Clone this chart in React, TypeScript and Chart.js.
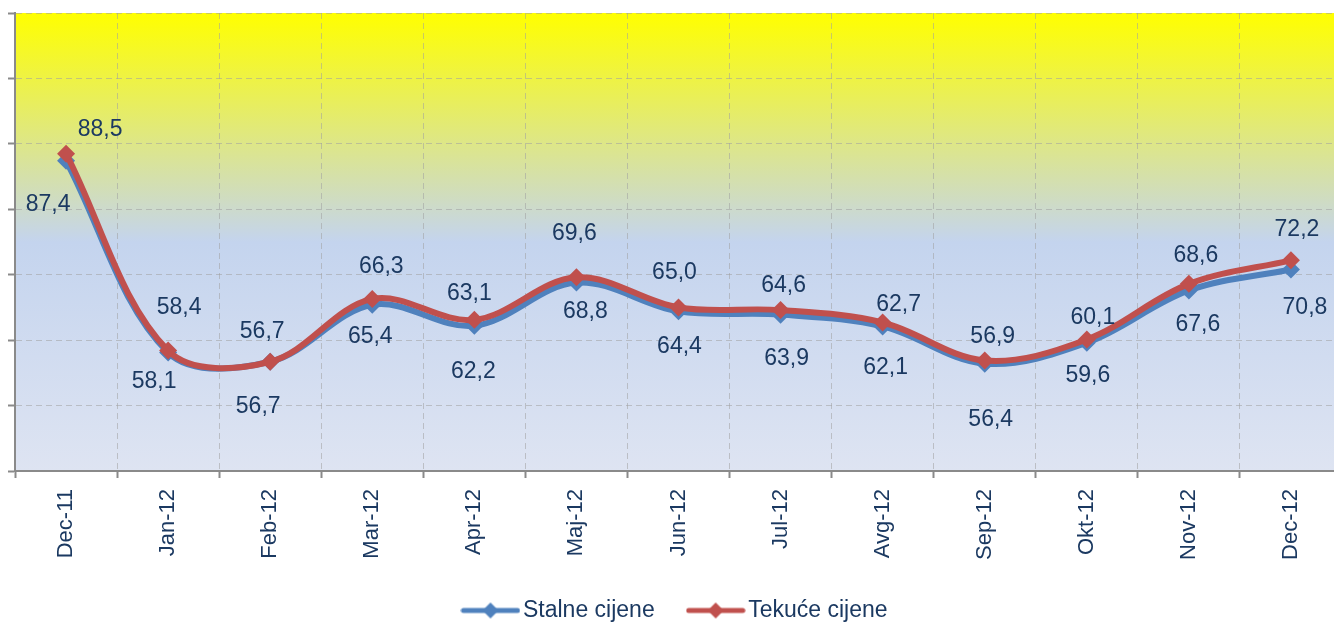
import { useEffect, useRef } from 'react';
import { Chart, registerables } from 'chart.js';

Chart.register(...registerables);

const categories = ['Dec-11', 'Jan-12', 'Feb-12', 'Mar-12', 'Apr-12', 'Maj-12', 'Jun-12', 'Jul-12', 'Avg-12', 'Sep-12', 'Okt-12', 'Nov-12', 'Dec-12'];
const stalneCijene = [87.4, 58.1, 56.7, 65.4, 62.2, 68.8, 64.4, 63.9, 62.1, 56.4, 59.6, 67.6, 70.8];
const tekuceCijene = [88.5, 58.4, 56.7, 66.3, 63.1, 69.6, 65.0, 64.6, 62.7, 56.9, 60.1, 68.6, 72.2];
const seriesNames = ['Stalne cijene', 'Tekuće cijene'];
const yMin = 40;
const yMax = 110;
const yStep = 10;

// label placement relative to each marker (dx, dy), as in the original
const stalneLabelOffsets = [[-18, 44], [-14, 29], [-12, 45], [-2, 32], [-1, 46], [9, 29], [1, 35], [6, 44], [3, 41], [6, 56], [1, 33], [9, 34], [14, 38]];
const tekuceLabelOffsets = [[34, -24], [11, -43], [-8, -30], [9, -32], [-5, -26], [-2, -44], [-4, -35], [3, -24], [16, -18], [8, -24], [6, -22], [7, -28], [6, -31]];

const BLUE = '#4F81BD';
const RED = '#C0504D';
const TEXT = '#1B3961';
const FONT = '"Liberation Sans", Arial, sans-serif';

function legendMarker(color: string) {
  const c = document.createElement('canvas');
  c.width = 60;
  c.height = 20;
  const ctx = c.getContext('2d')!;
  ctx.strokeStyle = color;
  ctx.lineWidth = 5;
  ctx.lineCap = 'round';
  ctx.beginPath();
  ctx.moveTo(3, 10);
  ctx.lineTo(57, 10);
  ctx.stroke();
  ctx.fillStyle = color;
  ctx.beginPath();
  ctx.moveTo(30, 2);
  ctx.lineTo(38, 10);
  ctx.lineTo(30, 18);
  ctx.lineTo(22, 10);
  ctx.closePath();
  ctx.fill();
  return c;
}

const backgroundPlugin = {
  id: 'plotBackground',
  beforeDraw(chart: any) {
    const { ctx, chartArea } = chart;
    if (!chartArea) return;
    const g = ctx.createLinearGradient(0, chartArea.top, 0, chartArea.bottom);
    g.addColorStop(0, '#FFFF00');
    g.addColorStop(0.5, '#C4D4EE');
    g.addColorStop(1, '#DEE4F2');
    ctx.save();
    ctx.fillStyle = g;
    ctx.fillRect(chartArea.left, chartArea.top, chartArea.right - chartArea.left, chartArea.bottom - chartArea.top);
    ctx.restore();
  },
};

const labelOffsets = [stalneLabelOffsets, tekuceLabelOffsets];

const valueLabelPlugin = {
  id: 'valueLabels',
  afterDatasetsDraw(chart: any) {
    const ctx = chart.ctx;
    ctx.save();
    ctx.font = `23px ${FONT}`;
    ctx.fillStyle = TEXT;
    ctx.textAlign = 'center';
    ctx.textBaseline = 'middle';
    chart.data.datasets.forEach((ds: any, di: number) => {
      const meta = chart.getDatasetMeta(di);
      const offs = labelOffsets[di];
      meta.data.forEach((pt: any, i: number) => {
        const v = ds.data[i] as number;
        const text = v.toFixed(1).replace('.', ',');
        ctx.fillText(text, pt.x + offs[i][0], pt.y + offs[i][1]);
      });
    });
    ctx.restore();
  },
};

export default function App() {
  const canvasRef = useRef<HTMLCanvasElement | null>(null);

  useEffect(() => {
    if (!canvasRef.current) return;
    const markers = [legendMarker(BLUE), legendMarker(RED)];
    const chart = new Chart(canvasRef.current, {
      type: 'line',
      data: {
        labels: categories,
        datasets: [
          {
            label: seriesNames[0],
            data: stalneCijene,
            borderColor: BLUE,
            backgroundColor: BLUE,
            borderWidth: 6,
            pointStyle: 'rectRot',
            pointRadius: 9,
            pointBorderWidth: 0,
            tension: 0.35,
            order: 2,
          },
          {
            label: seriesNames[1],
            data: tekuceCijene,
            borderColor: RED,
            backgroundColor: RED,
            borderWidth: 6,
            pointStyle: 'rectRot',
            pointRadius: 9,
            pointBorderWidth: 0,
            tension: 0.35,
            order: 1,
          },
        ],
      },
      options: {
        responsive: false,
        animation: false,
        devicePixelRatio: 1,
        layout: { autoPadding: false, padding: { top: 13, left: 8, right: 0, bottom: 0 } },
        plugins: {
          tooltip: { enabled: false },
          legend: {
            position: 'bottom',
            fullSize: false,
            labels: {
              usePointStyle: true,
              pointStyleWidth: 42,
              padding: 40,
              color: TEXT,
              font: { size: 23, family: FONT },
              generateLabels: (ch: any) =>
                ch.data.datasets.map((ds: any, i: number) => ({
                  text: ds.label,
                  fillStyle: ds.borderColor,
                  strokeStyle: ds.borderColor,
                  lineWidth: 0,
                  pointStyle: markers[i],
                  fontColor: TEXT,
                  datasetIndex: i,
                  hidden: false,
                })),
            },
          },
        },
        scales: {
          x: {
            type: 'category',
            offset: true,
            grid: {
              display: true,
              offset: true,
              color: 'rgba(160,160,160,0.55)',
              lineWidth: 1,
              drawTicks: true,
              tickLength: 7,
              tickColor: '#8A8A8A',
              tickWidth: 2,
            },
            border: { display: true, color: '#8A8A8A', width: 2, dash: [6, 4] },
            ticks: {
              autoSkip: false,
              maxRotation: 90,
              minRotation: 90,
              padding: 11,
              color: TEXT,
              font: { size: 22, family: FONT },
            },
            afterFit: (scale: any) => {
              scale.height = 88;
            },
          },
          y: {
            min: yMin,
            max: yMax,
            grid: {
              display: true,
              color: 'rgba(160,160,160,0.55)',
              lineWidth: 1,
              drawTicks: true,
              tickLength: 7,
              tickColor: '#8A8A8A',
              tickWidth: 2,
            },
            border: { display: true, color: '#8A8A8A', width: 2, dash: [6, 4] },
            ticks: { display: false, stepSize: yStep },
          },
        },
      },
      plugins: [backgroundPlugin, valueLabelPlugin],
    } as any);
    return () => chart.destroy();
  }, []);

  return (
    <div style={{ position: 'fixed', left: 0, top: 0, width: 1334, height: 623, overflow: 'hidden', background: '#fff' }}>
      <div style={{ position: 'absolute', left: 0, top: 0, width: 1342, height: 632 }}>
        <canvas ref={canvasRef} width={1342} height={632} style={{ display: 'block', width: 1342, height: 632 }} />
      </div>
    </div>
  );
}
